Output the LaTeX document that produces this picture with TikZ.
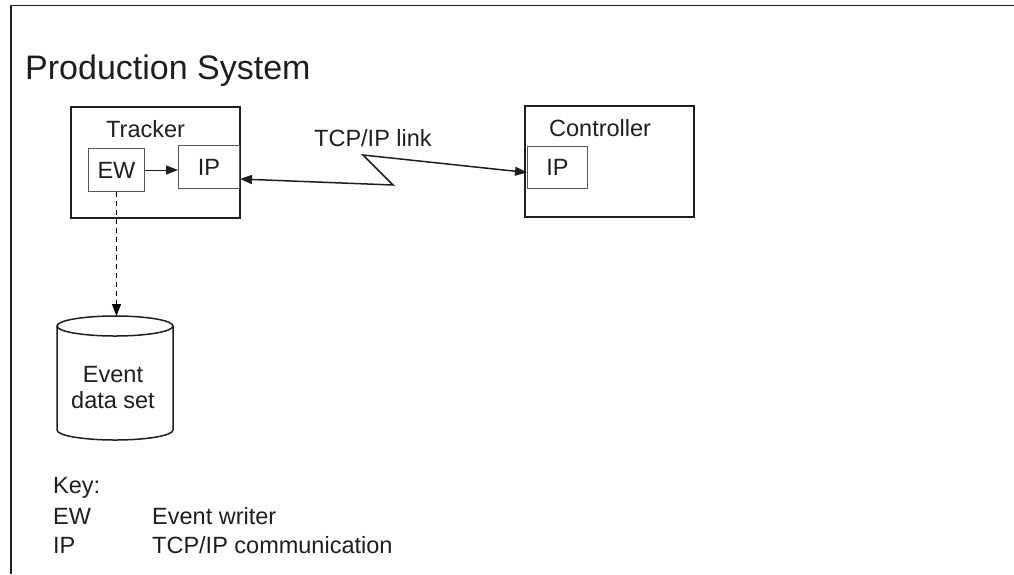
\documentclass[tikz,border=0pt]{standalone}
\usepackage{fontspec}
\setmainfont{Liberation Sans}
\usetikzlibrary{arrows.meta}
\definecolor{ink}{HTML}{1E1E1E}
\definecolor{thin}{HTML}{555555}
\begin{document}
\begin{tikzpicture}[x=1pt,y=-1pt,
  every node/.style={text=ink,font=\fontsize{23.5}{26}\selectfont},
  outerbox/.style={draw=ink,line width=2pt,anchor=north west,inner sep=0pt},
  innerbox/.style={draw=thin,line width=1pt,anchor=north west,inner sep=0pt,fill=white},
  lbl/.style={anchor=base west,inner sep=0pt},
  tip/.style={-{Triangle[length=12pt,width=9pt]}},
  bitip/.style={{Triangle[length=12pt,width=9pt]}-{Triangle[length=12pt,width=9pt]}}
]
\useasboundingbox (0,0) rectangle (1014,574);
% frame
\draw[ink,line width=1.5pt] (1014,5.5) -- (11,5.5) -- (11,574);
% title
\node[lbl,font=\fontsize{34}{40}\selectfont] (title) at (25,79) {Production System};
% tracker
\node[outerbox,minimum width=169pt,minimum height=111pt] (tracker) at (70,106) {};
\node[lbl] (trackerlbl) at (106,137) {Tracker};
\node[innerbox,minimum width=56pt,minimum height=43pt] (ew) at (88,148) {EW};
\node[innerbox,minimum width=61pt,minimum height=43pt] (tip) at (178,145) {IP};
% controller
\node[outerbox,minimum width=169pt,minimum height=111pt] (ctrl) at (524,105) {};
\node[lbl] (ctrllbl) at (549,136) {Controller};
\node[innerbox,minimum width=60pt,minimum height=42pt] (cip) at (527,146) {IP};
% link
\node[lbl] (linklbl) at (314,146) {TCP/IP link};
\coordinate (z1) at (393,185);
\coordinate (z2) at (363,155);
\draw[ink,line width=1.5pt,bitip] ([yshift=-12pt]tip.east) -- (z1) -- (z2) -- ([yshift=-5pt]cip.west);
% EW -> IP
\draw[ink,line width=1pt,tip] (ew.east) -- (ew.east -| tip.west);
% data set cylinder
\draw[ink,line width=1.5pt,fill=white] (57,326) -- (57,430) arc[start angle=180,end angle=0,x radius=58,y radius=10] -- (173,326);
\draw[ink,line width=1.5pt] (115,326) ellipse[x radius=58,y radius=10];
\coordinate (dstop) at (ew.south |- 0,316);
\node[align=center,inner sep=0pt] (ds) at (113,388) {Event\\data set};
\draw[thin,line width=1pt,dash pattern=on 5pt off 4pt,tip] (ew.south) -- (dstop);
% key
\node[lbl] (key) at (53,493) {Key:};
\node[lbl] (kew) at (53,524) {EW};
\node[lbl] (kewd) at (152,524) {Event writer};
\node[lbl] (kip) at (53,553) {IP};
\node[lbl] (kipd) at (152,553) {TCP/IP communication};
\end{tikzpicture}
\end{document}
